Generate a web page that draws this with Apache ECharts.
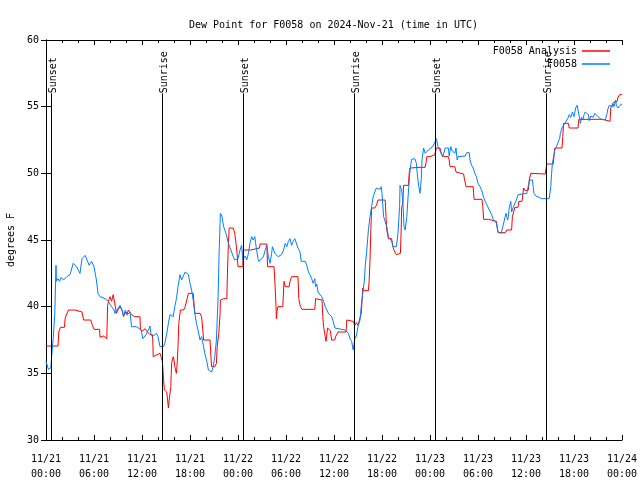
<!DOCTYPE html>
<html>
<head>
<meta charset="utf-8">
<script src="https://cdn.jsdelivr.net/npm/echarts@6/dist/echarts.min.js"></script>
<style>html,body{margin:0;padding:0;background:#fff}#c{width:640px;height:480px}</style>
</head>
<body>
<div id="c"></div>
<script>
// hours since 2024-11-21 00:00 UTC, dew point in F
const analysisData = [[0,37.05],[1.5,37.05],[1.6,38.1],[1.8,38.45],[2.3,38.45],[2.4,39.15],[2.6,39.2],[2.8,39.75],[3.6,39.75],[3.65,39.6],[4.5,39.6],[4.7,39.0],[5.6,39.0],[5.8,38.6],[6.0,38.3],[6.7,38.3],[6.75,37.7],[7.2,37.8],[7.6,37.6],[7.7,40.1],[7.85,40.5],[8.0,40.75],[8.2,40.4],[8.4,40.9],[8.6,40.25],[8.8,39.5],[9.0,39.75],[9.25,40.0],[9.5,39.75],[9.7,39.25],[9.9,39.6],[10.1,39.4],[10.3,39.75],[10.5,39.6],[10.7,39.4],[11.1,39.25],[11.75,39.25],[11.8,38.25],[12.1,38.2],[12.4,38.35],[12.6,38.15],[13.0,37.9],[13.3,37.9],[13.35,37.5],[13.4,36.25],[13.6,36.4],[14.25,36.5],[14.5,36.5],[14.55,35.9],[14.7,34.5],[14.8,33.75],[15.1,33.6],[15.3,32.4],[15.4,33.0],[15.6,34.0],[15.7,35.75],[15.9,36.25],[16.0,36.0],[16.1,35.5],[16.3,35.0],[16.4,35.75],[16.5,37.0],[16.6,38.75],[16.8,39.75],[17.2,39.75],[17.4,40.0],[17.6,40.05],[17.8,41.0],[18.4,41.0],[18.5,40.25],[18.6,39.5],[19.25,39.5],[19.45,39.25],[19.6,38.25],[19.7,37.5],[20.5,37.5],[20.6,36.4],[20.7,35.5],[21.1,35.5],[21.3,35.75],[21.4,37.0],[21.6,38.0],[21.75,39.4],[21.8,40.5],[22.2,40.6],[22.6,40.6],[22.7,42.9],[22.8,44.75],[22.9,45.9],[23.4,45.9],[23.6,45.5],[23.75,44.75],[23.9,43.9],[24.0,43.0],[24.6,43.0],[24.65,44.25],[25.6,44.25],[25.7,44.4],[26.7,44.4],[26.75,44.7],[27.6,44.7],[27.7,43.0],[28.5,43.0],[28.6,42.0],[28.75,40.0],[28.8,39.1],[28.9,39.75],[29.0,40.0],[29.6,40.0],[29.75,41.9],[29.9,41.5],[30.4,41.5],[30.5,41.9],[30.7,42.25],[31.5,42.25],[31.6,40.6],[31.8,40.0],[32.0,39.8],[33.6,39.8],[33.7,40.6],[34.5,40.5],[34.6,39.25],[34.7,38.5],[34.9,37.75],[35.0,37.4],[35.2,38.4],[35.4,38.5],[35.55,38.2],[35.7,37.5],[36.1,37.5],[36.2,37.75],[36.5,38.1],[37.5,38.1],[37.6,39.0],[38.4,38.9],[38.6,38.6],[38.8,38.8],[39.0,38.6],[39.25,38.7],[39.4,39.5],[39.45,39.9],[39.6,41.4],[39.7,41.2],[40.3,41.2],[40.4,42.0],[40.5,43.5],[40.6,45.6],[40.7,47.4],[41.1,47.4],[41.3,47.6],[41.5,48.0],[42.4,48.0],[42.5,46.75],[42.6,45.75],[42.8,45.1],[43.2,45.1],[43.4,44.4],[43.6,44.1],[43.8,43.9],[44.0,44.0],[44.3,44.0],[44.4,45.75],[44.45,47.4],[44.6,47.75],[44.7,49.1],[45.3,49.1],[45.4,50.0],[45.5,50.4],[46.75,50.45],[47.4,50.45],[47.5,50.8],[47.6,51.25],[48.0,51.25],[48.1,51.4],[48.6,51.4],[48.8,51.9],[49.25,51.9],[49.4,51.5],[49.6,51.25],[50.3,51.25],[50.4,51.0],[50.5,50.5],[51.1,50.5],[51.25,50.1],[51.5,50.0],[52.2,49.95],[52.3,49.6],[52.5,49.0],[53.4,49.0],[53.5,48.05],[54.5,48.05],[54.6,47.5],[54.7,46.55],[55.3,46.55],[55.4,46.4],[56.3,46.4],[56.4,46.0],[56.5,45.55],[57.4,45.55],[57.6,45.75],[58.2,45.75],[58.3,46.75],[58.6,47.45],[59.0,47.45],[59.1,47.9],[59.5,47.9],[59.7,48.9],[59.9,48.7],[60.3,48.75],[60.4,49.5],[60.6,50.0],[62.4,49.95],[62.5,50.0],[62.6,50.7],[63.4,50.7],[63.6,51.9],[64.5,51.9],[64.6,52.75],[64.7,53.75],[65.3,53.75],[65.4,53.4],[66.5,53.4],[66.6,54.05],[69.6,54.05],[69.75,53.9],[70.5,53.9],[70.6,54.9],[70.9,55.3],[71.1,55.25],[71.4,55.4],[71.5,55.7],[71.7,55.9],[72,55.9]];

const stationData = [[0,35.9],[0.3,35.3],[0.6,35.4],[0.7,36.25],[0.9,37.6],[1.1,39.5],[1.25,43.1],[1.3,41.9],[1.5,42.1],[1.7,41.9],[1.9,42.2],[2.2,42.0],[2.6,42.25],[3.0,42.4],[3.4,43.25],[3.8,43.0],[4.25,42.5],[4.5,43.6],[4.9,43.85],[5.1,44.0],[5.4,43.1],[5.7,43.4],[6.0,43.0],[6.3,42.0],[6.5,41.0],[6.75,40.75],[7.4,40.6],[7.8,40.4],[8.0,40.25],[8.2,40.0],[8.5,39.75],[8.6,39.5],[9.25,40.1],[9.5,39.75],[9.7,39.3],[9.9,39.75],[10.2,39.4],[10.5,39.6],[10.7,38.5],[11.3,38.5],[11.9,38.25],[12.1,37.6],[12.5,37.9],[12.8,38.25],[13.0,38.55],[13.1,38.0],[13.3,37.75],[13.8,38.0],[14.0,37.75],[14.25,37.0],[14.7,37.0],[14.85,37.25],[15.1,38.0],[15.3,38.75],[15.5,39.4],[15.7,39.5],[15.9,39.25],[16.1,40.0],[16.3,40.6],[16.5,41.5],[16.75,42.4],[16.95,42.0],[17.2,42.1],[17.4,42.6],[17.6,42.75],[17.8,42.4],[18.0,41.75],[18.2,41.25],[18.4,40.5],[18.6,39.5],[18.8,38.75],[19.0,38.25],[19.25,37.5],[19.45,37.75],[19.7,37.0],[19.85,36.5],[20.1,35.9],[20.3,35.25],[20.7,35.1],[20.9,35.5],[21.1,36.25],[21.3,37.5],[21.5,40.5],[21.65,44.25],[21.8,47.0],[22.0,46.75],[22.2,46.0],[22.5,45.5],[22.8,44.75],[23.0,44.8],[23.2,44.1],[23.4,43.75],[23.6,43.5],[23.8,43.4],[24.0,43.6],[24.25,44.25],[24.45,44.6],[24.6,43.5],[24.9,43.8],[25.1,43.5],[25.3,44.0],[25.5,44.75],[25.7,45.25],[25.9,45.0],[26.1,45.25],[26.2,44.75],[26.4,44.75],[26.5,43.6],[26.6,43.4],[27.0,43.6],[27.2,43.8],[27.4,44.25],[27.6,44.6],[27.8,43.75],[28.0,43.25],[28.2,44.0],[28.3,44.5],[28.6,44.0],[28.8,43.9],[29.0,43.75],[29.25,43.7],[29.45,43.9],[29.7,44.25],[29.9,44.75],[30.1,44.5],[30.3,44.9],[30.5,45.1],[30.7,44.6],[30.9,44.9],[31.1,45.1],[31.3,45.0],[31.5,44.4],[31.75,44.1],[31.9,43.4],[32.1,43.25],[32.4,43.4],[32.6,43.1],[32.8,42.6],[33.0,42.4],[33.2,42.1],[33.4,41.75],[33.6,42.1],[33.7,41.5],[33.85,41.7],[34.0,41.1],[34.25,41.0],[34.45,40.75],[34.7,40.4],[34.9,40.0],[35.1,39.75],[35.3,39.5],[35.7,39.25],[35.9,38.9],[36.1,38.4],[36.3,38.25],[37.4,38.25],[37.6,38.2],[37.8,38.0],[38.0,37.6],[38.2,37.4],[38.4,36.75],[38.6,37.6],[38.8,37.8],[39.0,38.5],[39.25,39.0],[39.4,40.0],[39.6,41.0],[39.8,42.0],[39.9,43.0],[40.1,44.25],[40.3,45.75],[40.5,46.75],[40.7,47.5],[40.9,48.25],[41.1,48.6],[41.3,48.9],[41.5,49.0],[41.75,48.8],[41.9,49.0],[42.0,48.5],[42.2,46.75],[42.4,46.9],[42.6,46.0],[42.8,45.25],[43.0,45.4],[43.2,44.9],[43.4,44.5],[43.8,44.5],[44.0,45.5],[44.2,47.5],[44.25,49.1],[44.45,48.75],[44.6,48.0],[44.75,46.0],[44.9,45.75],[45.1,46.75],[45.3,48.6],[45.5,50.25],[45.7,51.05],[46.1,51.1],[46.3,50.75],[46.4,50.0],[46.6,49.0],[46.75,48.5],[46.9,49.5],[47.0,51.0],[47.2,51.9],[47.4,51.5],[47.6,51.6],[47.8,51.75],[48.0,51.9],[48.4,52.05],[48.6,52.2],[48.8,52.6],[49.0,52.0],[49.25,51.9],[49.4,51.5],[49.6,51.25],[49.9,51.9],[50.1,51.95],[50.3,51.9],[50.4,51.3],[50.6,52.0],[50.7,51.75],[50.9,51.9],[51.1,51.5],[51.25,51.9],[51.4,51.0],[51.5,51.25],[51.75,51.3],[52.4,51.3],[52.6,51.55],[52.9,51.55],[53.0,51.0],[53.2,50.6],[53.4,50.4],[53.6,50.0],[53.8,49.75],[54.0,49.25],[54.25,49.0],[54.45,48.75],[54.7,48.2],[54.9,47.9],[55.1,47.9],[55.3,47.4],[55.5,47.4],[55.7,46.9],[55.9,46.55],[56.1,46.55],[56.3,46.25],[56.5,45.6],[56.75,45.5],[56.9,45.5],[57.1,45.6],[57.4,46.75],[57.5,47.0],[57.7,46.5],[57.8,46.75],[57.9,47.4],[58.1,47.9],[58.2,47.1],[58.4,47.45],[58.6,47.5],[58.8,48.0],[59.0,48.4],[59.25,48.5],[60.1,48.5],[60.3,49.1],[60.5,49.5],[60.8,49.5],[60.9,49.0],[61.0,48.5],[61.25,48.3],[61.4,48.4],[61.95,48.1],[62.9,48.1],[63.1,49.0],[63.2,50.0],[63.3,50.75],[63.5,51.4],[63.6,51.75],[63.8,52.0],[64.0,52.1],[64.2,52.6],[64.3,53.0],[64.5,53.4],[64.7,53.6],[64.9,53.75],[65.1,54.0],[65.3,54.2],[65.4,54.4],[65.6,54.2],[65.8,54.6],[66.0,54.25],[66.2,54.9],[66.4,55.1],[66.5,54.75],[66.7,54.1],[66.8,53.75],[66.95,54.2],[67.1,54.0],[67.25,54.4],[67.4,54.6],[67.6,54.75],[67.8,54.4],[67.9,53.95],[68.1,54.3],[68.2,54.25],[68.4,54.2],[68.6,54.5],[68.8,54.4],[69.0,54.25],[69.25,54.2],[69.4,54.05],[69.6,54.0],[69.9,54.0],[70.1,54.4],[70.2,54.75],[70.4,55.1],[70.6,55.25],[70.8,55.0],[70.9,55.2],[71.0,55.0],[71.2,55.5],[71.3,55.1],[71.5,54.9],[71.7,55.0],[71.75,55.1],[72,55.2]];

const sunEventHours = [0.63, 14.54, 24.66, 38.54, 48.68, 62.58];
const sunEventNames = ['Sunset', 'Sunrise', 'Sunset', 'Sunrise', 'Sunset', 'Sunrise'];
const seriesNames = ['F0058 Analysis', 'F0058'];
const seriesColors = ['#ff0000', '#0080ff'];
const dayLabels = ['11/21', '11/22', '11/23', '11/24'];

const FONT = 'DejaVu Sans Mono';
const LINE_TOP = 56.0;

const sunLines = [];
sunEventHours.forEach(function (h, i) {
  sunLines.push([
    { coord: [h, 30], label: { show: false } },
    { coord: [h, LINE_TOP] }
  ]);
  sunLines.push([
    { coord: [h, LINE_TOP], lineStyle: { color: 'rgba(255,255,255,0)', width: 1, opacity: 1 },
      label: { show: true, formatter: sunEventNames[i], position: 'insideStart', distance: 2,
               offset: [0, 0], color: '#000', opacity: 1, fontFamily: FONT, fontSize: 10 } },
    { coord: [h, 60] }
  ]);
});

function fmtX(v) {
  const d = Math.floor(v / 24);
  const hr = v - d * 24;
  return dayLabels[d] + '\n' + (hr < 10 ? '0' : '') + hr + ':00';
}

const chart = echarts.init(document.getElementById('c'), null, { renderer: 'canvas' });
const axisLineStyle = { lineStyle: { color: '#000', width: 1 } };
chart.setOption({
  animation: false,
  backgroundColor: '#fff',
  textStyle: { fontFamily: FONT, fontSize: 10, color: '#000' },
  title: {
    text: 'Dew Point for F0058 on 2024-Nov-21 (time in UTC)',
    left: 184, top: 15,
    textStyle: { fontFamily: FONT, fontSize: 10, fontWeight: 'normal', color: '#000' }
  },
  legend: [
    { data: [seriesNames[0]], right: 30, top: 46, orient: 'vertical', align: 'right', padding: 0,
      itemWidth: 28, itemHeight: 1.5, icon: 'rect', selectedMode: false,
      textStyle: { fontFamily: FONT, fontSize: 10, color: '#000' } },
    { data: [seriesNames[1]], right: 30, top: 59, orient: 'vertical', align: 'right', padding: 0,
      itemWidth: 28, itemHeight: 1.5, icon: 'rect', selectedMode: false,
      textStyle: { fontFamily: FONT, fontSize: 10, color: '#000' } }
  ],
  grid: { left: 46, right: 18, top: 40, bottom: 40, containLabel: false, outerBoundsMode: 'none' },
  xAxis: [
    { type: 'value', min: 0, max: 72, interval: 6, position: 'bottom',
      axisLine: axisLineStyle,
      axisTick: { inside: true, length: 5, lineStyle: { color: '#000' } },
      minorTick: { show: true, splitNumber: 3, length: 3, lineStyle: { color: '#000' } },
      splitLine: { show: false },
      axisLabel: { formatter: fmtX, fontFamily: FONT, fontSize: 10, color: '#000', lineHeight: 15, margin: 12, hideOverlap: false } },
    { type: 'value', min: 0, max: 72, interval: 6, position: 'top',
      axisLine: axisLineStyle,
      axisTick: { inside: true, length: 5, lineStyle: { color: '#000' } },
      minorTick: { show: true, splitNumber: 3, length: 3, lineStyle: { color: '#000' } },
      splitLine: { show: false }, axisLabel: { show: false } }
  ],
  yAxis: [
    { type: 'value', min: 30, max: 60, interval: 5, position: 'left',
      name: 'degrees F', nameLocation: 'middle', nameGap: 30, nameRotate: 90,
      nameTextStyle: { fontFamily: FONT, fontSize: 10, color: '#000' },
      axisLine: { show: true, lineStyle: { color: '#000', width: 1 } },
      axisTick: { show: true, inside: true, length: 5, lineStyle: { color: '#000' } },
      splitLine: { show: false },
      axisLabel: { fontFamily: FONT, fontSize: 10, color: '#000', margin: 7 } },
    { type: 'value', min: 30, max: 60, interval: 5, position: 'right',
      axisLine: { show: true, lineStyle: { color: '#000', width: 1 } },
      axisTick: { show: true, inside: true, length: 5, lineStyle: { color: '#000' } },
      splitLine: { show: false }, axisLabel: { show: false } }
  ],
  series: [
    { name: 'sun', type: 'line', data: [], xAxisIndex: 0, yAxisIndex: 0, silent: true,
      markLine: { silent: true, symbol: ['none', 'none'], animation: false,
        lineStyle: { color: '#000', width: 1, type: 'solid' },
        label: { show: false }, emphasis: { disabled: true },
        data: sunLines } },
    { name: seriesNames[0], type: 'line', data: analysisData, showSymbol: false, symbol: 'none',
      color: seriesColors[0], lineStyle: { width: 1, color: seriesColors[0] }, z: 3 },
    { name: seriesNames[1], type: 'line', data: stationData, showSymbol: false, symbol: 'none',
      color: seriesColors[1], lineStyle: { width: 1, color: seriesColors[1] }, z: 4 }
  ]
});
</script>
</body>
</html>
